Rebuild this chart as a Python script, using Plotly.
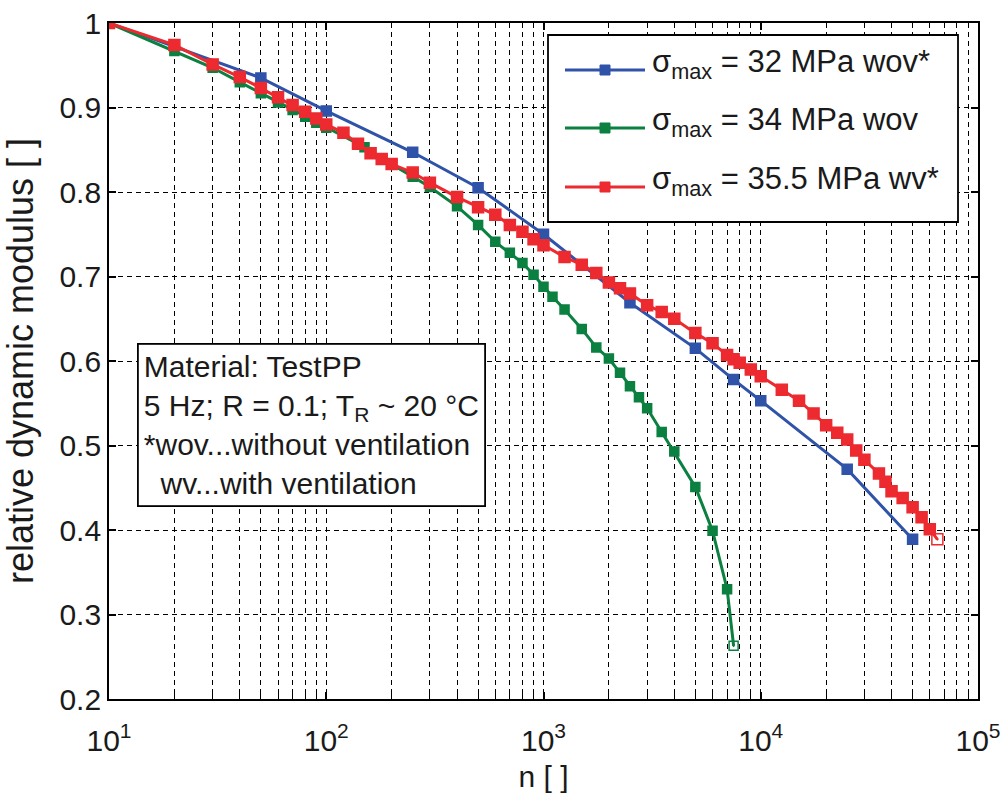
import plotly.graph_objects as go

# ---------------- data ----------------
blue_n = [10, 50, 100, 250, 500, 1000, 2500, 5000, 7500, 10000, 25000, 50000]
blue_e = [1.0, 0.935, 0.896, 0.847, 0.805, 0.750, 0.669, 0.615, 0.578, 0.553, 0.472, 0.389]

green_n = [10, 20, 30, 40, 50, 60, 70, 80, 90, 100, 150, 200, 250, 300, 400, 500, 600,
           700, 800, 900, 1000, 1100, 1250, 1500, 1750, 2000, 2250, 2500, 2750, 3000,
           3500, 4000, 5000, 6000, 7000, 7500]
green_e = [1.0, 0.967, 0.947, 0.930, 0.917, 0.906, 0.897, 0.889, 0.882, 0.876, 0.853,
           0.833, 0.818, 0.806, 0.783, 0.761, 0.741, 0.728, 0.716, 0.702, 0.688, 0.676,
           0.661, 0.638, 0.616, 0.603, 0.586, 0.570, 0.557, 0.544, 0.516, 0.493, 0.451,
           0.399, 0.330, 0.263]

red_n = [10, 20, 30, 40, 50, 60, 70, 80, 90, 100, 120, 140, 160, 180, 200, 250, 300,
         400, 500, 600, 700, 800, 900, 1000, 1250, 1500, 1750, 2000, 2250, 2500, 3000,
         3500, 4000, 5000, 6000, 7000, 7500, 8000, 9000, 10000, 12500, 15000, 17500,
         20000, 22500, 25000, 27500, 30000, 35000, 37500, 40000, 45000, 50000, 55000,
         60000, 65000]
red_e = [1.0, 0.974, 0.951, 0.936, 0.923, 0.912, 0.903, 0.895, 0.887, 0.880, 0.870,
         0.857, 0.846, 0.839, 0.833, 0.823, 0.811, 0.794, 0.782, 0.773, 0.761, 0.753,
         0.744, 0.737, 0.723, 0.714, 0.704, 0.693, 0.686, 0.680, 0.666, 0.658, 0.650,
         0.633, 0.621, 0.607, 0.602, 0.598, 0.590, 0.582, 0.566, 0.553, 0.538, 0.524,
         0.515, 0.507, 0.494, 0.483, 0.467, 0.457, 0.446, 0.438, 0.427, 0.415, 0.401,
         0.389]

series_names = ["σ<sub>max</sub> = 32 MPa wov*",
                "σ<sub>max</sub> = 34 MPa wov",
                "σ<sub>max</sub> = 35.5 MPa wv*"]
colors = ["#2F53A8", "#0B8040", "#EC2A2F"]
marker_sizes = [10, 9, 11]

x_ticks = [10, 100, 1000, 10000, 100000]
x_ticktext = ["10<sup>1</sup>", "10<sup>2</sup>", "10<sup>3</sup>", "10<sup>4</sup>", "10<sup>5</sup>"]
y_ticks = [0.2, 0.3, 0.4, 0.5, 0.6, 0.7, 0.8, 0.9, 1.0]
y_ticktext = ["0.2", "0.3", "0.4", "0.5", "0.6", "0.7", "0.8", "0.9", "1"]

info_text = ("Material: TestPP<br>"
             "5 Hz; R = 0.1; T<sub>R</sub> ~ 20 °C<br>"
             "*wov...without ventilation<br>"
             "  wv...with ventilation")

# ---------------- layout geometry ----------------
W, H = 1003, 801
L, R, T, B = 109, 978, 23, 699
FONT = "Liberation Sans, Arial, sans-serif"
TXT = "#1a1a1a"


def px(x):
    return (x - L) / (R - L)


def py(y):
    return (B - y) / (B - T)


fig = go.Figure()

all_series = [(blue_n, blue_e), (green_n, green_e), (red_n, red_e)]
for i, ((n, e), name, c, ms) in enumerate(zip(all_series, series_names, colors, marker_sizes)):
    symbols = ["square"] * len(n)
    if i > 0:
        symbols[-1] = "square-open-dot"
    fig.add_trace(go.Scatter(
        x=n, y=e, mode="lines+markers", name=name,
        line=dict(color=c, width=3),
        marker=dict(symbol=symbols, size=ms, color=c, line=dict(color=c, width=1.5)),
        showlegend=False,
    ))

grid_dash = "5px,4px"
fig.update_xaxes(
    type="log", range=[1, 5], automargin=False,
    tickvals=x_ticks, ticktext=x_ticktext,
    ticks="inside", ticklen=7, tickwidth=1.5, tickcolor="black",
    showline=True, linecolor="black", linewidth=1.8, mirror="allticks",
    showgrid=True, gridcolor="black", gridwidth=1.3, griddash=grid_dash,
    minor=dict(dtick="D1", ticks="inside", ticklen=5, tickwidth=1.3, tickcolor="black",
               showgrid=True, gridcolor="black", gridwidth=1.3, griddash=grid_dash),
    tickfont=dict(family=FONT, size=30, color=TXT),
    ticklabelstandoff=14,
    title=dict(text="n [ ]", font=dict(family=FONT, size=30, color=TXT), standoff=10),
    zeroline=False,
)
fig.update_yaxes(
    range=[0.2, 1.0], tickvals=y_ticks, ticktext=y_ticktext, automargin=False,
    ticks="inside", ticklen=7, tickwidth=1.5, tickcolor="black",
    showline=True, linecolor="black", linewidth=1.8, mirror="allticks",
    showgrid=True, gridcolor="black", gridwidth=1.3, griddash=grid_dash,
    tickfont=dict(family=FONT, size=30, color=TXT),
    title=dict(text="relative dynamic modulus [ ]", font=dict(family=FONT, size=36, color=TXT),
               standoff=24),
    zeroline=False,
)

shapes = []
annotations = []

# legend box (manual, to reproduce long line samples)
shapes.append(dict(type="rect", xref="paper", yref="paper",
                   x0=px(548), x1=px(958), y0=py(222), y1=py(35),
                   fillcolor="white", line=dict(color="black", width=1.8), layer="above"))
rows = [70, 128, 187]
for yrow, name, c in zip(rows, series_names, colors):
    shapes.append(dict(type="line", xref="paper", yref="paper",
                       x0=px(565), x1=px(645), y0=py(yrow), y1=py(yrow),
                       line=dict(color=c, width=3), layer="above"))
    shapes.append(dict(type="rect", xref="paper", yref="paper",
                       x0=px(600), x1=px(610), y0=py(yrow + 5), y1=py(yrow - 5),
                       fillcolor=c, line=dict(color=c, width=1), layer="above"))
    annotations.append(dict(xref="paper", yref="paper", x=px(650), y=py(yrow - 6),
                            xanchor="left", yanchor="middle", showarrow=False,
                            text=name, font=dict(family=FONT, size=31, color=TXT)))

# info box
annotations.append(dict(xref="paper", yref="paper", x=px(137), y=py(343),
                        xanchor="left", yanchor="top", showarrow=False, align="left",
                        text=info_text, font=dict(family=FONT, size=30, color=TXT),
                        bgcolor="white", bordercolor="black", borderwidth=1.8,
                        borderpad=5))

fig.update_layout(
    width=W, height=H,
    margin=dict(l=L, r=W - R, t=T, b=H - B, autoexpand=False),
    paper_bgcolor="white", plot_bgcolor="white",
    shapes=shapes, annotations=annotations,
    font=dict(family=FONT, color=TXT),
)

fig.write_html("out.html")
